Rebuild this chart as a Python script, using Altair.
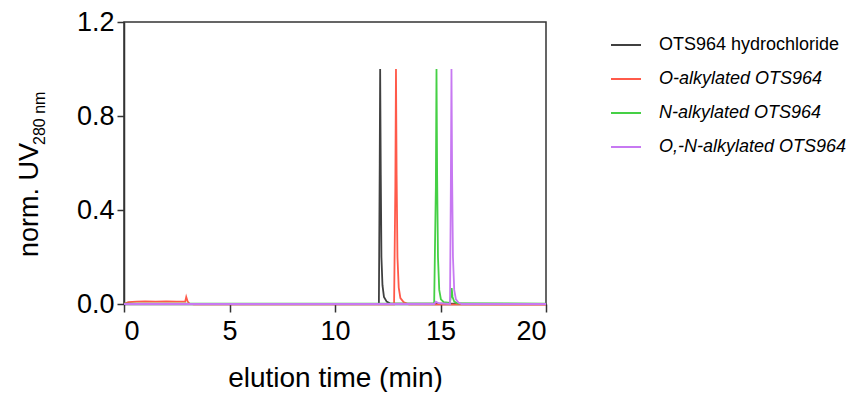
import altair as alt
import pandas as pd

# ---- data ----
series_names = ["OTS964 hydrochloride", "O-alkylated OTS964", "N-alkylated OTS964", "O,-N-alkylated OTS964"]
series_colors = ["#404040", "#FF5A4A", "#45D045", "#C779F2"]

black_t = [0, 0.5, 11.5, 12.08, 12.12, 12.14, 12.17, 12.2, 12.25, 12.32, 12.45, 12.6, 15, 20]
black_v = [0.001, 0.0, 0.0, 0.0, 0.6, 1.0, 0.55, 0.2, 0.08, 0.03, 0.01, 0.003, 0.001, 0.0]

red_t = [0, 0.2, 0.6, 1.0, 1.5, 2.0, 2.5, 2.9, 2.95, 3.02, 3.1, 3.3, 12.8, 12.86, 12.89, 12.92, 12.96, 13.02, 13.1, 13.25, 13.5, 20]
red_v = [0.0, 0.008, 0.01, 0.011, 0.01, 0.011, 0.01, 0.01, 0.03, 0.01, 0.002, -0.002, -0.002, 0.5, 1.0, 0.55, 0.2, 0.07, 0.025, 0.008, -0.002, -0.003]

green_t = [0, 14.7, 14.78, 14.81, 14.84, 14.88, 14.94, 15.02, 15.15, 15.45, 15.5, 15.53, 15.57, 15.65, 15.8, 20]
green_v = [0.002, 0.002, 0.5, 1.0, 0.55, 0.2, 0.06, 0.02, 0.008, 0.005, 0.04, 0.068, 0.03, 0.01, 0.003, 0.002]

purple_t = [0, 14.7, 14.78, 14.9, 15.45, 15.49, 15.52, 15.55, 15.59, 15.65, 15.73, 15.85, 16.0, 20]
purple_v = [0.0, 0.0, 0.01, 0.004, 0.0, 0.5, 1.0, 0.55, 0.2, 0.06, 0.02, 0.006, 0.0, 0.0]

x_ticks = [0, 5, 10, 15, 20]
y_ticks = [0.0, 0.4, 0.8, 1.2]
x_title = "elution time (min)"
y_title_main = "norm. UV"
y_title_sub = "280 nm"

rows = []
for name, ts, vs in zip(series_names, [black_t, red_t, green_t, purple_t], [black_v, red_v, green_v, purple_v]):
    for i, (t, v) in enumerate(zip(ts, vs)):
        rows.append({"series": name, "t": t, "v": v, "i": i})
df = pd.DataFrame(rows)

FONT = "Liberation Sans"

lines = alt.Chart(df).mark_line(strokeWidth=1.8).encode(
    x=alt.X("t:Q", scale=alt.Scale(domain=[0, 20], nice=False),
            axis=alt.Axis(values=x_ticks, title=x_title, grid=False, labelFontSize=27,
                          titleFontSize=28, tickSize=8, labelPadding=6, titlePadding=20,
                          titleFontWeight="normal")),
    y=alt.Y("v:Q", scale=alt.Scale(domain=[0, 1.2], nice=False),
            axis=alt.Axis(values=y_ticks, format=".1f", title=None, grid=False,
                          labelFontSize=27, tickSize=7, labelPadding=3)),
    color=alt.Color("series:N",
                    scale=alt.Scale(domain=series_names, range=series_colors),
                    legend=alt.Legend(title=None, orient="none", legendX=486, legendY=7,
                                      symbolType="stroke", symbolSize=900, symbolStrokeWidth=2,
                                      labelFont=FONT, labelFontSize=18, labelColor="black",
                                      labelOffset=17, rowPadding=9, padding=0,
                                      labelLimit=400,
                                      labelFontStyle=alt.ExprRef("datum.label == 'OTS964 hydrochloride' ? 'normal' : 'italic'"))),
    order="i:Q",
)

ytm = alt.Chart(pd.DataFrame({"s": [y_title_main]})).mark_text(
    angle=270, align="left", baseline="alphabetic", fontSize=27, font=FONT, color="black"
).encode(text="s:N", x=alt.value(-86), y=alt.value(235))

yts = alt.Chart(pd.DataFrame({"s": [y_title_sub]})).mark_text(
    angle=270, align="left", baseline="alphabetic", fontSize=16, font=FONT, color="black"
).encode(text="s:N", x=alt.value(-79), y=alt.value(123))

chart = alt.layer(lines, ytm, yts).properties(
    width=422, height=282, autosize="none",
    padding={"left": 116, "top": 14, "right": 306, "bottom": 88},
).configure_view(stroke="#333333", strokeWidth=1.5).configure_axis(
    labelFont=FONT, titleFont=FONT, labelColor="black", titleColor="black",
    domainColor="#333333", tickColor="#333333", domainWidth=1.5, tickWidth=1.5,
)

chart.save("out.html", embed_options={"renderer": "svg", "actions": False})
